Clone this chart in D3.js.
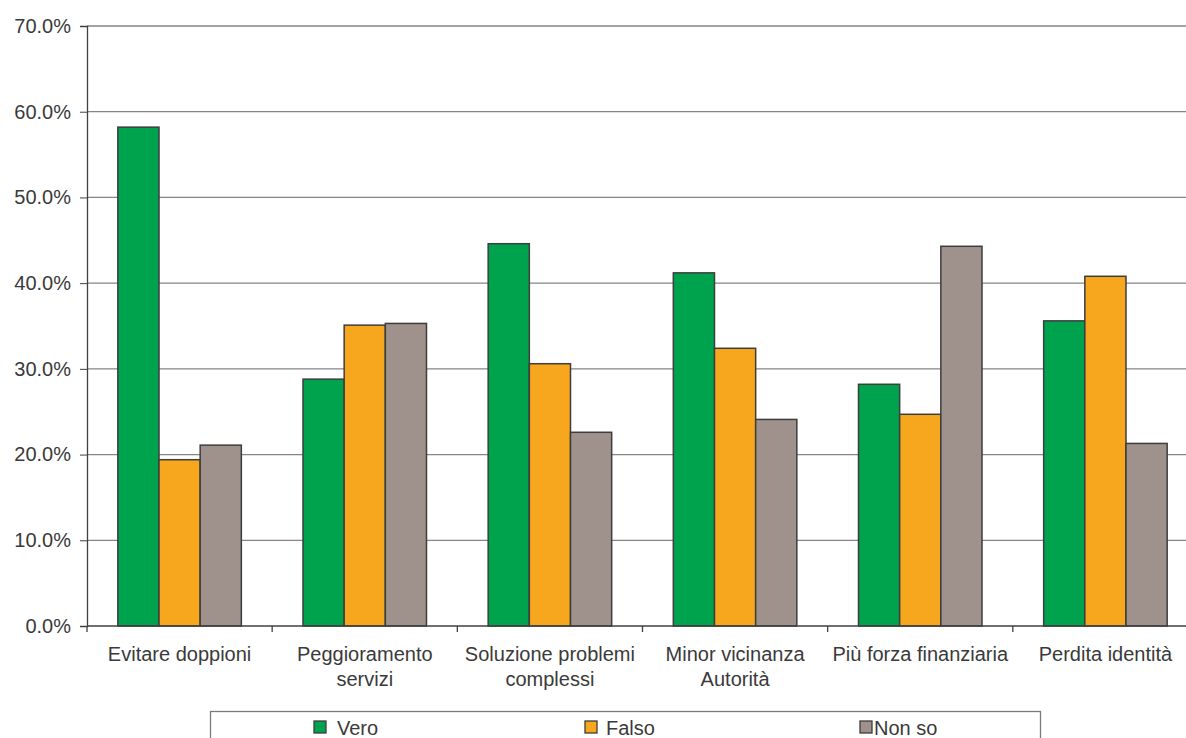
<!DOCTYPE html>
<html>
<head>
<meta charset="utf-8">
<script src="https://cdn.jsdelivr.net/npm/d3@7"></script>
<style>
  body { margin: 0; background: #fff; }
  svg { display: block; font-family: "Liberation Sans", Arial, sans-serif; }
</style>
</head>
<body>
<svg width="1186" height="738"></svg>
<script>
// data
const categories = [
    ["Evitare doppioni"],
    ["Peggioramento", "servizi"],
    ["Soluzione problemi", "complessi"],
    ["Minor vicinanza", "Autorità"],
    ["Più forza finanziaria"],
    ["Perdita identità"]
];
const seriesNames = ["Vero", "Falso", "Non so"];
const vero = [58.2, 28.8, 44.6, 41.2, 28.2, 35.6];
const falso = [19.4, 35.1, 30.6, 32.4, 24.7, 40.8];
const nonSo = [21.1, 35.3, 22.6, 24.1, 44.3, 21.3];
const yTicks = [0, 10, 20, 30, 40, 50, 60, 70];

const colors = ["#00a34d", "#f7a71d", "#9f918b"];
const series = [vero, falso, nonSo];

const svg = d3.select("svg");
const plotLeft = 87, plotRight = 1198, plotTop = 26, plotBottom = 626;

const x = d3.scaleBand()
    .domain(d3.range(categories.length))
    .range([plotLeft, plotRight])
    .paddingInner(0.333)
    .paddingOuter(0.1665);

const xSub = d3.scaleBand()
    .domain(d3.range(seriesNames.length))
    .range([0, x.bandwidth()]);

const y = d3.scaleLinear().domain([0, 70]).range([plotBottom, plotTop]);

// gridlines
svg.append("g")
    .selectAll("line")
    .data(yTicks.slice(1))
    .join("line")
    .attr("x1", plotLeft).attr("x2", plotRight)
    .attr("y1", d => y(d)).attr("y2", d => y(d))
    .attr("stroke", "#858585")
    .attr("stroke-width", 1.3);

// y axis
const yAxis = svg.append("g")
    .attr("transform", `translate(${plotLeft},0)`)
    .call(d3.axisLeft(y).tickValues(yTicks).tickFormat(d => d.toFixed(1) + "%").tickSize(7).tickPadding(9));
yAxis.select(".domain").attr("stroke", "#404040").attr("stroke-width", 1.3);
yAxis.selectAll(".tick line").attr("stroke", "#404040");
yAxis.selectAll("text")
    .attr("font-size", 20)
    .attr("font-family", "Liberation Sans, Arial, sans-serif")
    .attr("fill", "#3a3a3a");

// bars
const groups = svg.append("g")
    .selectAll("g")
    .data(categories)
    .join("g")
    .attr("transform", (d, i) => `translate(${x(i)},0)`);

groups.selectAll("rect")
    .data((d, i) => series.map((s, k) => ({ k, v: s[i] })))
    .join("rect")
    .attr("x", d => xSub(d.k))
    .attr("width", xSub.bandwidth())
    .attr("y", d => y(d.v))
    .attr("height", d => y(0) - y(d.v))
    .attr("fill", d => colors[d.k])
    .attr("stroke", "#3d3d3d")
    .attr("stroke-width", 1.5);

// x axis line and ticks
const step = x.step();
svg.append("line")
    .attr("x1", plotLeft).attr("x2", plotRight)
    .attr("y1", plotBottom).attr("y2", plotBottom)
    .attr("stroke", "#404040").attr("stroke-width", 1.3);

svg.append("g")
    .selectAll("line")
    .data(d3.range(categories.length + 1))
    .join("line")
    .attr("x1", i => plotLeft + i * step).attr("x2", i => plotLeft + i * step)
    .attr("y1", plotBottom).attr("y2", plotBottom + 6)
    .attr("stroke", "#404040").attr("stroke-width", 1.3);

// category labels
svg.append("g")
    .selectAll("text")
    .data(categories)
    .join("text")
    .attr("x", (d, i) => x(i) + x.bandwidth() / 2)
    .attr("y", 661)
    .attr("text-anchor", "middle")
    .attr("font-size", 20)
    .attr("fill", "#3a3a3a")
    .selectAll("tspan")
    .data(d => d)
    .join("tspan")
    .attr("x", function () { return d3.select(this.parentNode).attr("x"); })
    .attr("dy", (d, j) => j === 0 ? 0 : 25)
    .text(d => d);

// legend
const legend = svg.append("g");
legend.append("rect")
    .attr("x", 210.5).attr("y", 711.5)
    .attr("width", 830).attr("height", 60)
    .attr("fill", "#fff")
    .attr("stroke", "#7a7a7a").attr("stroke-width", 1.3);

const legendX = [314, 585, 860];
const textGap = [23, 21, 14];
const items = legend.selectAll("g.item")
    .data(seriesNames)
    .join("g")
    .attr("class", "item")
    .attr("transform", (d, i) => `translate(${legendX[i]},721)`);
items.append("rect")
    .attr("width", 12).attr("height", 12)
    .attr("fill", (d, i) => colors[i])
    .attr("stroke", "#3d3d3d").attr("stroke-width", 1.3);
items.append("text")
    .attr("x", (d, i) => textGap[i])
    .attr("y", 14)
    .attr("font-size", 20)
    .attr("fill", "#3a3a3a")
    .text(d => d);
</script>
</body>
</html>
